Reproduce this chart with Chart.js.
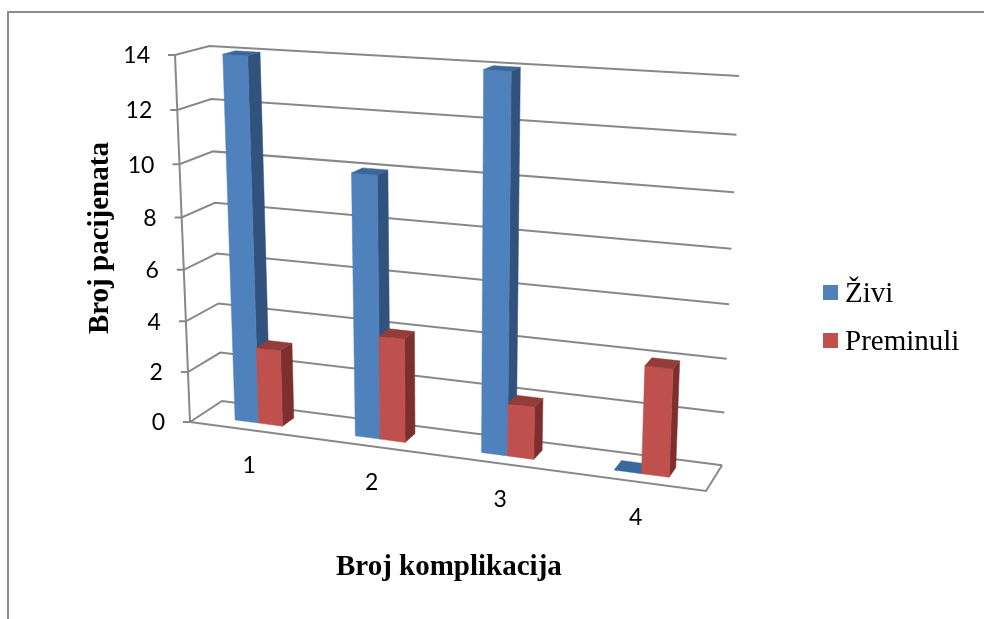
<!DOCTYPE html>
<html>
<head>
<meta charset="utf-8">
<style>
  html, body { margin: 0; padding: 0; background: #fff; }
  canvas { display: block; }
</style>
<script src="https://cdn.jsdelivr.net/npm/chart.js@4"></script>
</head>
<body>
<canvas id="chart" width="984" height="619"></canvas>
<script>
// Patient counts by number of complications
const categories = ['1', '2', '3', '4'];
const zivi = [14, 10, 14, 0];
const preminuli = [3, 4, 2, 4];
const yMin = 0;
const yMax = 14;
const yStep = 2;

const SERIF = '"Liberation Serif", "Times New Roman", serif';
const SANS = 'Lato, "Open Sans", sans-serif';
const GRID = '#888888';

// Projection of the unit box (u across, v up, w into the page) onto the canvas
const O = [190, 422];
const X = [706, 491];
const Y = [175, 55];
const Z = [222, 401];
const WX = 0.905, WY = 0.945, WZ = 1.035;
const BAR_FRONT = 0.31, BAR_BACK = 0.69;

function project(u, v, w) {
  const a = u * WX, b = v * WY, c = w * WZ, d = 1 - u - v - w;
  const n = a + b + c + d;
  return [
    (a * X[0] + b * Y[0] + c * Z[0] + d * O[0]) / n,
    (a * X[1] + b * Y[1] + c * Z[1] + d * O[1]) / n
  ];
}

function polyline(ctx, pts) {
  ctx.beginPath();
  pts.forEach((p, i) => (i ? ctx.lineTo(p[0], p[1]) : ctx.moveTo(p[0], p[1])));
}

function face(ctx, pts, color) {
  polyline(ctx, pts);
  ctx.closePath();
  ctx.fillStyle = color;
  ctx.fill();
  ctx.strokeStyle = color;
  ctx.lineWidth = 0.5;
  ctx.stroke();
}

// One bar element as a box: side, front, then top face
function drawBox(ctx, area, bar, ds) {
  const { x, y, base, width } = bar.getProps(['x', 'y', 'base', 'width']);
  const u0 = (x - width / 2 - area.left) / area.width;
  const u1 = (x + width / 2 - area.left) / area.width;
  const v0 = (area.bottom - base) / area.height;
  const v1 = (area.bottom - y) / area.height;
  if (v1 > v0) {
    face(ctx, [project(u1, v0, BAR_FRONT), project(u1, v0, BAR_BACK),
               project(u1, v1, BAR_BACK), project(u1, v1, BAR_FRONT)], ds.sideColor);
    face(ctx, [project(u0, v0, BAR_FRONT), project(u1, v0, BAR_FRONT),
               project(u1, v1, BAR_FRONT), project(u0, v1, BAR_FRONT)], ds.backgroundColor);
  }
  face(ctx, [project(u0, v1, BAR_FRONT), project(u1, v1, BAR_FRONT),
             project(u1, v1, BAR_BACK), project(u0, v1, BAR_BACK)], ds.topColor);
}

const box3d = {
  id: 'box3d',
  beforeDraw(chart) {
    const { ctx, width, height } = chart;
    ctx.save();
    ctx.strokeStyle = '#8c8c8c';
    ctx.lineWidth = 2;
    polyline(ctx, [[8, height], [8, 12], [width, 12]]);
    ctx.stroke();
    ctx.restore();
  },
  // Walls, floor and the axis labels sit behind the bars
  beforeDatasetsDraw(chart) {
    const { ctx, chartArea: area, scales } = chart;
    const yScale = scales.y, xScale = scales.x;
    ctx.save();
    ctx.strokeStyle = GRID;
    ctx.lineWidth = 2;
    ctx.lineJoin = 'miter';

    yScale.ticks.forEach(tick => {
      const v = (area.bottom - yScale.getPixelForValue(tick.value)) / area.height;
      const front = project(0, v, 0);
      polyline(ctx, [[front[0] - 7, front[1]], front, project(0, v, 1), project(1, v, 1)]);
      ctx.stroke();

      ctx.fillStyle = '#000';
      ctx.font = '23px ' + SANS;
      ctx.textAlign = 'right';
      ctx.textBaseline = 'middle';
      ctx.fillText(tick.label, front[0] - 25, front[1] + 1);
    });

    polyline(ctx, [project(0, 0, 0), project(0, 1, 0)]);
    ctx.stroke();
    polyline(ctx, [project(0, 0, 0), project(1, 0, 0), project(1, 0, 1)]);
    ctx.stroke();

    categories.forEach((label, i) => {
      const u = (xScale.getPixelForValue(i) - area.left) / area.width;
      const p = project(u, 0, 0);
      ctx.fillStyle = '#000';
      ctx.font = '23px ' + SANS;
      ctx.textAlign = 'center';
      ctx.textBaseline = 'middle';
      ctx.fillText(label, p[0], p[1] + 36);
    });
    ctx.restore();
  },
  // The boxes replace the flat rectangles; series are painted first to last
  beforeDatasetDraw() {
    return false;
  },
  afterDatasetsDraw(chart) {
    const { ctx, chartArea: area } = chart;
    chart.data.datasets.forEach((ds, i) => {
      chart.getDatasetMeta(i).data.forEach(bar => drawBox(ctx, area, bar, ds));
    });
  },
  // Legend keys on the right-hand side
  afterDraw(chart) {
    const { ctx } = chart;
    ctx.save();
    chart.data.datasets.forEach((ds, i) => {
      const top = 285 + i * 48;
      ctx.fillStyle = ds.backgroundColor;
      ctx.fillRect(823, top, 15, 15);
      ctx.fillStyle = '#000';
      ctx.font = '29px ' + SERIF;
      ctx.textAlign = 'left';
      ctx.textBaseline = 'alphabetic';
      ctx.fillText(ds.label, 845, top + 17);
    });
    ctx.restore();
  }
};

new Chart(document.getElementById('chart'), {
  type: 'bar',
  data: {
    labels: categories,
    datasets: [
      { label: 'Živi', data: zivi,
        backgroundColor: '#4F81BD', sideColor: '#30527D', topColor: '#3B689C' },
      { label: 'Preminuli', data: preminuli,
        backgroundColor: '#C0504D', sideColor: '#7D2F2D', topColor: '#943C39' }
    ]
  },
  options: {
    responsive: false,
    animation: false,
    layout: { padding: { left: 83, right: 216, top: 48, bottom: 34 } },
    datasets: { bar: { categoryPercentage: 0.4, barPercentage: 1 } },
    plugins: { legend: { display: false }, tooltip: { enabled: false } },
    scales: {
      x: {
        grid: { display: false },
        border: { display: false },
        ticks: { display: false },
        title: {
          display: true, text: 'Broj komplikacija', color: '#000',
          font: { family: SERIF, size: 29, weight: 'bold' },
          padding: { top: 114, bottom: 0 }
        }
      },
      y: {
        min: yMin, max: yMax,
        grid: { display: false },
        border: { display: false },
        ticks: { display: false, stepSize: yStep },
        title: {
          display: true, text: 'Broj pacijenata', color: '#000',
          font: { family: SERIF, size: 29, weight: 'bold' },
          padding: { top: 0, bottom: 4 }
        }
      }
    }
  },
  plugins: [box3d]
});
</script>
</body>
</html>
